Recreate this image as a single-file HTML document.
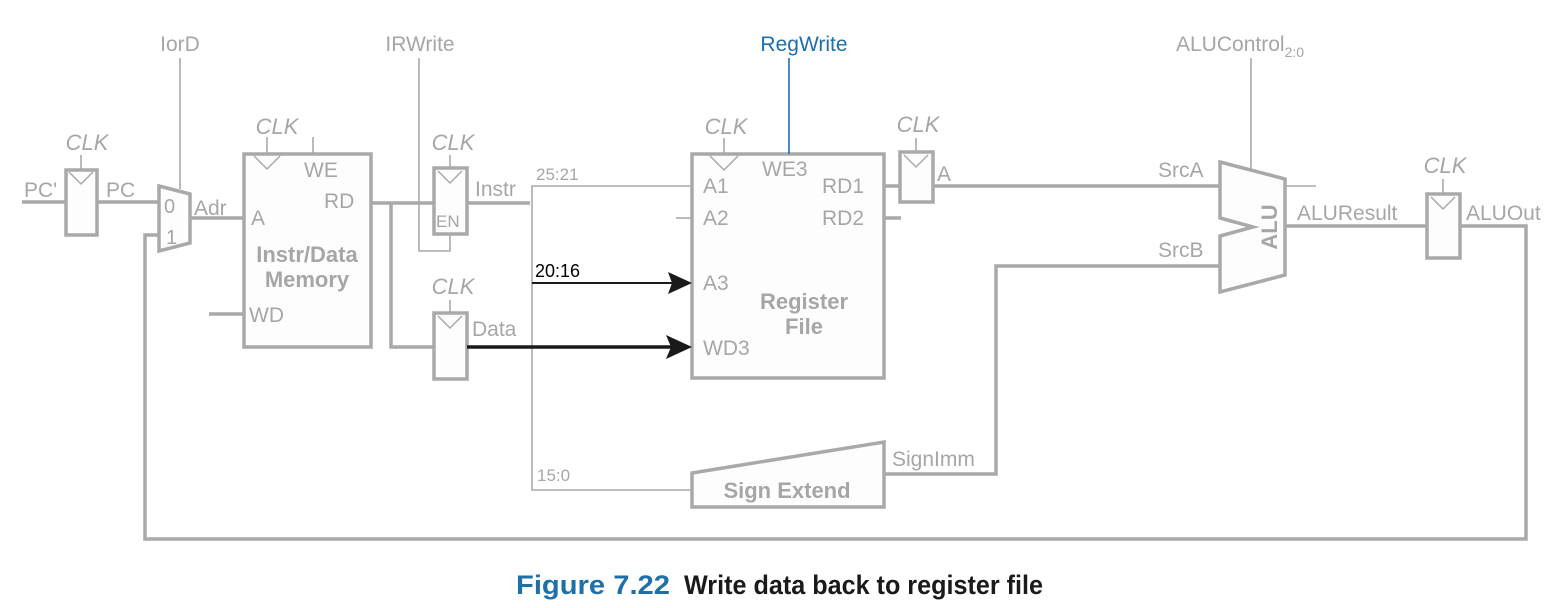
<!DOCTYPE html>
<html><head><meta charset="utf-8"><style>
html,body{margin:0;padding:0;background:#fff;}
svg{display:block;}
text{font-family:"Liberation Sans",Arial,sans-serif;fill:#a6a6a6;}
.t{font-size:21px;}
.b{font-weight:bold;font-size:22px;}
.i{font-style:italic;font-size:22px;}
</style></head><body>
<svg width="1558" height="608" viewBox="0 0 1558 608" xmlns="http://www.w3.org/2000/svg">
<g fill="none" stroke="#a9a9a9" stroke-width="3.5" stroke-linejoin="miter">
<line x1="22" y1="202" x2="66" y2="202"/>
<rect x="66" y="170" width="31" height="65" fill="#fdfdfd"/>
<polyline points="69,172 81,184 93,172" stroke-width="1.5"/>
<line x1="97" y1="202" x2="160" y2="202"/>
<polygon points="159,186 190,194 190,243 159,251" fill="#fdfdfd"/>
<line x1="190" y1="218" x2="244" y2="218"/>
<polyline points="159,235 145,235 145,539 1526,539 1526,226 1460,226"/>
<rect x="244" y="154" width="127" height="193" fill="#fdfdfd"/>
<polyline points="254,156 267,169 280,156" stroke-width="1.5"/>
<line x1="209" y1="314" x2="244" y2="314"/>
<line x1="371" y1="203" x2="434" y2="203"/>
<polyline points="391,203 391,347 434,347"/>
<rect x="434" y="168" width="33" height="66" fill="#fdfdfd"/>
<polyline points="438,171 450,183 462,171" stroke-width="1.5"/>
<line x1="467" y1="203" x2="530" y2="203"/>
<rect x="434" y="313" width="33" height="66" fill="#fdfdfd"/>
<polyline points="438,316 450,328 462,316" stroke-width="1.5"/>
<rect x="692" y="154" width="192" height="224" fill="#fdfdfd"/>
<polyline points="710,156 724,170 738,156" stroke-width="1.5"/>
<line x1="884" y1="218" x2="901" y2="218"/>
<line x1="884" y1="186" x2="900" y2="186"/>
<rect x="900" y="152" width="33" height="50" fill="#fdfdfd"/>
<polyline points="904,155 916,167 928,155" stroke-width="1.5"/>
<line x1="933" y1="186" x2="1220" y2="186"/>
<polygon points="692,473 884,442 884,507 692,507" fill="#fdfdfd"/>
<polyline points="884,474 996,474 996,266 1220,266"/>
<polygon points="1220,162 1285,179 1285,275 1220,292 1220,236 1253,227 1220,218" fill="#fdfdfd"/>
<line x1="1285" y1="226" x2="1427" y2="226"/>
<rect x="1427" y="194" width="33" height="64" fill="#fdfdfd"/>
<polyline points="1431,197 1443,209 1455,197" stroke-width="1.5"/>
</g>
<g fill="none" stroke="#a9a9a9" stroke-width="1.6">
<line x1="180" y1="58" x2="180" y2="189"/>
<line x1="81" y1="155" x2="81" y2="170"/>
<line x1="267" y1="137" x2="267" y2="154"/>
<line x1="313" y1="137" x2="313" y2="154"/>
<polyline points="419,58 419,251 450,251 450,234"/>
<line x1="450" y1="155" x2="450" y2="168"/>
<line x1="450" y1="300" x2="450" y2="313"/>
<polyline points="692,186 532,186 532,490 692,490"/>
<line x1="724" y1="138" x2="724" y2="154"/>
<line x1="916" y1="138" x2="916" y2="152"/>
<line x1="676" y1="218" x2="692" y2="218"/>
<line x1="1251" y1="58" x2="1251" y2="170"/>
<line x1="1285" y1="186" x2="1316" y2="186"/>
<line x1="1443" y1="179" x2="1443" y2="194"/>
</g>
<line x1="789" y1="58" x2="789" y2="154" stroke="#1f6fa8" stroke-width="1.6"/>
<line x1="532" y1="283" x2="672" y2="283" stroke="#1a1a1a" stroke-width="2"/>
<polygon points="692,283 668,272 672,283 668,294" fill="#1a1a1a"/>
<line x1="467" y1="347" x2="672" y2="347" stroke="#1a1a1a" stroke-width="3.5"/>
<polygon points="692,347 666,335 671,347 666,359" fill="#1a1a1a"/>
<text x="180" y="51" class="t" text-anchor="middle">IorD</text>
<text x="420" y="51" class="t" text-anchor="middle">IRWrite</text>
<text x="804" y="51" class="t" text-anchor="middle" style="fill:#1f6fa8">RegWrite</text>
<text x="1176" y="51" class="t">ALUControl<tspan font-size="14" dy="6">2:0</tspan></text>
<text x="87" y="150" class="i" text-anchor="middle">CLK</text>
<text x="277" y="134" class="i" text-anchor="middle">CLK</text>
<text x="453" y="150" class="i" text-anchor="middle">CLK</text>
<text x="453" y="294" class="i" text-anchor="middle">CLK</text>
<text x="726" y="134" class="i" text-anchor="middle">CLK</text>
<text x="918" y="132" class="i" text-anchor="middle">CLK</text>
<text x="1445" y="173" class="i" text-anchor="middle">CLK</text>
<text x="24" y="197" class="t">PC'</text>
<text x="106" y="197" class="t">PC</text>
<text x="164" y="213" font-size="20">0</text>
<text x="166" y="244" font-size="20">1</text>
<text x="194" y="215" class="t">Adr</text>
<text x="251" y="225" class="t">A</text>
<text x="304" y="177" class="t">WE</text>
<text x="324" y="208" class="t">RD</text>
<text x="307" y="262" class="b" text-anchor="middle">Instr/Data</text>
<text x="307" y="287" class="b" text-anchor="middle">Memory</text>
<text x="249" y="322" class="t">WD</text>
<text x="436" y="227" font-size="17">EN</text>
<text x="475" y="196" class="t">Instr</text>
<text x="472" y="336" class="t">Data</text>
<text x="536" y="180" font-size="17">25:21</text>
<text x="535" y="277" font-size="18" style="fill:#000">20:16</text>
<text x="537" y="481" font-size="17">15:0</text>
<text x="703" y="193" class="t">A1</text>
<text x="762" y="176" class="t">WE3</text>
<text x="822" y="193" class="t">RD1</text>
<text x="703" y="225" class="t">A2</text>
<text x="822" y="225" class="t">RD2</text>
<text x="703" y="290" class="t">A3</text>
<text x="703" y="355" class="t">WD3</text>
<text x="804" y="309" class="b" text-anchor="middle">Register</text>
<text x="804" y="334" class="b" text-anchor="middle">File</text>
<text x="787" y="498" class="b" text-anchor="middle">Sign Extend</text>
<text x="892" y="466" class="t">SignImm</text>
<text x="937" y="181" class="t">A</text>
<text x="1158" y="177" class="t">SrcA</text>
<text x="1158" y="257" class="t">SrcB</text>
<text x="1297" y="220" class="t">ALUResult</text>
<text x="1466" y="220" class="t">ALUOut</text>
<text transform="translate(1277,227) rotate(-90)" text-anchor="middle" class="b" font-size="24">ALU</text>
<text x="516" y="594" font-weight="bold" font-size="27" textLength="154" lengthAdjust="spacingAndGlyphs" style="fill:#1f6fa8">Figure 7.22</text>
<text x="684" y="594" font-weight="bold" font-size="27" textLength="359" lengthAdjust="spacingAndGlyphs" style="fill:#1a1a1a">Write data back to register file</text>
</svg>
</body></html>
